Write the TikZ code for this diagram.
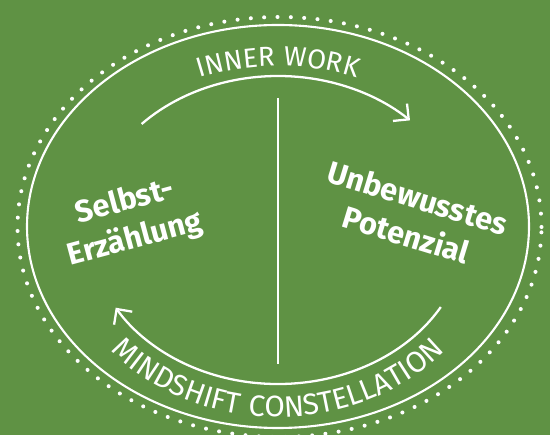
\documentclass[tikz,border=0pt]{standalone}
\usepackage{fontspec}
\setsansfont{Fira Sans}
\newfontfamily\arcfont[LetterSpace=4]{Fira Sans}
\usetikzlibrary{arrows.meta,decorations.text}
\definecolor{leaf}{RGB}{95,146,68}

\begin{document}
\begin{tikzpicture}[x=0.02cm,y=0.02cm]
	\tikzset{ring/.style={white,line width=1.2pt},
		dotring/.style={white,line width=2.3pt,line cap=round,dash pattern=on 0pt off 7.6pt},
		flow/.style={white,line width=1.3pt,-{Straight Barb[length=6.4pt,width=12.7pt]}},
		divider/.style={white,line width=1.4pt},
		topic/.style={white,align=center,font=\sffamily\bfseries\fontsize{17.5}{22}\selectfont}}
	\fill[leaf] (0,0) rectangle (550,435);
	\useasboundingbox (0,0) rectangle (550,435);
	\clip (0,0) rectangle (550,435);
	\coordinate (c) at (278,205);
	\coordinate (ringc) at (278,208.5);
	\coordinate (dotc) at (279.5,208);
	\coordinate (divtop) at (278,337);
	\coordinate (divbot) at (278,71);
	\draw[dotring] (dotc) ellipse[x radius=262,y radius=210];
	\draw[ring] (ringc) ellipse[x radius=251,y radius=201.5];
	\path (divtop) edge[divider] (divbot);
	\draw[flow] ([shift={(136.5:188 and 154)}]c) arc[start angle=136.5,end angle=45.4,x radius=188,y radius=154];
	\draw[flow] ([shift={(-30:188 and 154)}]c) arc[start angle=-30,end angle=-149.7,x radius=188,y radius=154];
	\path[decorate,decoration={text along path,text align=center,text color=white,
		text={|\arcfont\fontsize{15.6}{16}\selectfont|INNER WORK}}]
		([shift={(150:210 and 164)}]c) arc[start angle=150,end angle=30,x radius=210,y radius=164];
	\path[decorate,decoration={text along path,text align=center,text color=white,
		text={|\arcfont\fontsize{16.8}{17}\selectfont|MINDSHIFT CONSTELLATION}}]
		([shift={(195:219 and 187)}]c) arc[start angle=195,end angle=345,x radius=219,y radius=187];
	\node[topic,rotate=15] (selbst) at (130,214) {Selbst-\\Erzählung};
	\node[topic,rotate=-17] (potenzial) at (412,219) {Unbewusstes\\Potenzial};
\end{tikzpicture}
\end{document}
